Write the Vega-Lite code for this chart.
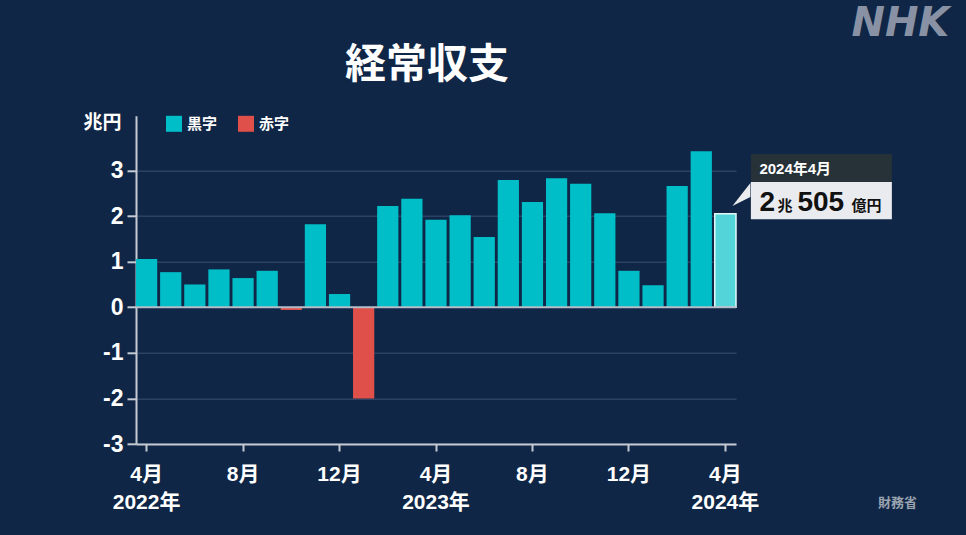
{
  "$schema": "https://vega.github.io/schema/vega-lite/v6.json",
  "autosize": {"type": "none"},
  "width": 600,
  "height": 328.2,
  "padding": {"left": 136, "top": 115.8, "right": 230, "bottom": 91},
  "background": "#0f2646",
  "config": {
    "font": "Liberation Sans, 'Noto Sans CJK JP', sans-serif",
    "view": {"stroke": null}
  },
  "title": {
    "text": "経常収支",
    "color": "white",
    "fontSize": 41,
    "fontWeight": "bold",
    "anchor": "start",
    "frame": "group",
    "dx": 209,
    "offset": 0,
    "dy": 83
  },
  "data": {
    "values": [
      {"ym": "2022-04", "v": 1.06, "kind": "黒字"},
      {"ym": "2022-05", "v": 0.77, "kind": "黒字"},
      {"ym": "2022-06", "v": 0.50, "kind": "黒字"},
      {"ym": "2022-07", "v": 0.83, "kind": "黒字"},
      {"ym": "2022-08", "v": 0.64, "kind": "黒字"},
      {"ym": "2022-09", "v": 0.80, "kind": "黒字"},
      {"ym": "2022-10", "v": -0.06, "kind": "赤字"},
      {"ym": "2022-11", "v": 1.82, "kind": "黒字"},
      {"ym": "2022-12", "v": 0.29, "kind": "黒字"},
      {"ym": "2023-01", "v": -2.00, "kind": "赤字"},
      {"ym": "2023-02", "v": 2.22, "kind": "黒字"},
      {"ym": "2023-03", "v": 2.38, "kind": "黒字"},
      {"ym": "2023-04", "v": 1.92, "kind": "黒字"},
      {"ym": "2023-05", "v": 2.02, "kind": "黒字"},
      {"ym": "2023-06", "v": 1.54, "kind": "黒字"},
      {"ym": "2023-07", "v": 2.79, "kind": "黒字"},
      {"ym": "2023-08", "v": 2.31, "kind": "黒字"},
      {"ym": "2023-09", "v": 2.83, "kind": "黒字"},
      {"ym": "2023-10", "v": 2.71, "kind": "黒字"},
      {"ym": "2023-11", "v": 2.06, "kind": "黒字"},
      {"ym": "2023-12", "v": 0.80, "kind": "黒字"},
      {"ym": "2024-01", "v": 0.48, "kind": "黒字"},
      {"ym": "2024-02", "v": 2.66, "kind": "黒字"},
      {"ym": "2024-03", "v": 3.42, "kind": "黒字"},
      {"ym": "2024-04", "v": 2.0505, "kind": "最新"}
    ]
  },
  "layer": [
    {
      "mark": {"type": "bar"},
      "encoding": {
        "x": {
          "field": "ym",
          "type": "ordinal",
          "scale": {"paddingInner": 0.12, "paddingOuter": 0},
          "axis": {
            "values": ["2022-04", "2022-08", "2022-12", "2023-04", "2023-08", "2023-12", "2024-04"],
            "labelExpr": "toNumber(substring(datum.value,5,7)) == 4 ? [toNumber(substring(datum.value,5,7)) + '月', substring(datum.value,0,4) + '年'] : toNumber(substring(datum.value,5,7)) + '月'",
            "title": null,
            "grid": false,
            "labelAngle": 0,
            "labelColor": "white",
            "labelFontSize": 21,
            "labelFontWeight": "bold",
            "labelLineHeight": 28,
            "labelPadding": 12,
            "tickColor": "#c5cad3",
            "tickSize": 7,
            "tickWidth": 2,
            "domainColor": "#c5cad3",
            "domainWidth": 2
          }
        },
        "y": {
          "field": "v",
          "type": "quantitative",
          "scale": {"domain": [-3, 4.2], "nice": false, "zero": false},
          "axis": {
            "values": [-3, -2, -1, 0, 1, 2, 3],
            "labelExpr": "datum.value < 0 ? '-' + abs(datum.value) : '' + datum.value",
            "title": "兆円",
            "titleAngle": 0,
            "titleAlign": "center",
            "titleBaseline": "middle",
            "titleX": -34,
            "titleY": 7,
            "titleColor": "white",
            "titleFontSize": 19,
            "titleFontWeight": "bold",
            "labelColor": "white",
            "labelFontSize": 23,
            "labelFontWeight": "bold",
            "labelPadding": 4,
            "tickColor": "#c5cad3",
            "tickSize": 9,
            "tickWidth": 2,
            "domainColor": "#c5cad3",
            "domainWidth": 2,
            "gridColor": "#2c4265",
            "gridWidth": 1.5
          }
        },
        "color": {
          "field": "kind",
          "type": "nominal",
          "scale": {"domain": ["黒字", "赤字", "最新"], "range": ["#00bec8", "#e0504a", "#52d4d9"]},
          "legend": {
            "values": ["黒字", "赤字"],
            "title": null,
            "orient": "none",
            "legendX": 30,
            "legendY": 0,
            "direction": "horizontal",
            "symbolType": "square",
            "symbolSize": 256,
            "symbolStrokeWidth": 0,
            "labelColor": "white",
            "labelFontSize": 15,
            "labelFontWeight": "bold",
            "labelOffset": 5,
            "columnPadding": 20
          }
        },
        "stroke": {
          "condition": {"test": "datum.kind == '最新'", "value": "#e4f7f8"},
          "value": null
        },
        "strokeWidth": {"value": 1.5}
      }
    },
    {
      "data": {"values": [{}]},
      "mark": {"type": "rule", "color": "#b4bcc8", "strokeWidth": 2},
      "encoding": {"y": {"datum": 0}}
    },
    {
      "data": {"values": [{}]},
      "mark": {"type": "bar", "color": "#263238", "width": 141, "xOffset": 96},
      "encoding": {
        "x": {"datum": "2024-04", "type": "ordinal"},
        "y": {"datum": 3.362},
        "y2": {"datum": 2.748}
      }
    },
    {
      "data": {"values": [{}]},
      "mark": {"type": "bar", "color": "#e9ebef", "width": 141, "xOffset": 96},
      "encoding": {
        "x": {"datum": "2024-04", "type": "ordinal"},
        "y": {"datum": 2.748},
        "y2": {"datum": 1.93}
      }
    },
    {
      "data": {"values": [{}]},
      "mark": {"type": "point", "shape": "M-1,1.33 L1,-1.22 L1,0.33 Z", "size": 324, "filled": true, "color": "#e9ebef", "opacity": 1, "xOffset": 16},
      "encoding": {
        "x": {"datum": "2024-04", "type": "ordinal"},
        "y": {"datum": 2.485}
      }
    },
    {
      "data": {"values": [{}]},
      "mark": {"type": "text", "text": "2024年4月", "color": "white", "fontSize": 15, "fontWeight": "bold", "align": "left", "baseline": "middle", "xOffset": 34},
      "encoding": {
        "x": {"datum": "2024-04", "type": "ordinal"},
        "y": {"datum": 3.04}
      }
    },
    {
      "data": {"values": [{}]},
      "mark": {"type": "text", "text": "2", "color": "#111111", "fontSize": 28, "fontWeight": "bold", "align": "left", "baseline": "alphabetic", "xOffset": 34},
      "encoding": {
        "x": {"datum": "2024-04", "type": "ordinal"},
        "y": {"datum": 2.105}
      }
    },
    {
      "data": {"values": [{}]},
      "mark": {"type": "text", "text": "兆", "color": "#111111", "fontSize": 15, "fontWeight": "bold", "align": "left", "baseline": "alphabetic", "xOffset": 52},
      "encoding": {
        "x": {"datum": "2024-04", "type": "ordinal"},
        "y": {"datum": 2.105}
      }
    },
    {
      "data": {"values": [{}]},
      "mark": {"type": "text", "text": "505", "color": "#111111", "fontSize": 28, "fontWeight": "bold", "align": "left", "baseline": "alphabetic", "xOffset": 72},
      "encoding": {
        "x": {"datum": "2024-04", "type": "ordinal"},
        "y": {"datum": 2.105}
      }
    },
    {
      "data": {"values": [{}]},
      "mark": {"type": "text", "text": "億円", "color": "#111111", "fontSize": 15, "fontWeight": "bold", "align": "left", "baseline": "alphabetic", "xOffset": 126},
      "encoding": {
        "x": {"datum": "2024-04", "type": "ordinal"},
        "y": {"datum": 2.105}
      }
    },
    {
      "data": {"values": [{}]},
      "mark": {"type": "text", "text": "NHK", "color": "#8892a4", "font": "DejaVu Sans", "fontSize": 40, "fontWeight": "bold", "fontStyle": "italic", "align": "center", "baseline": "middle", "xOffset": 175},
      "encoding": {
        "x": {"datum": "2024-04", "type": "ordinal"},
        "y": {"datum": 6.22}
      }
    },
    {
      "data": {"values": [{}]},
      "mark": {"type": "text", "text": "財務省", "color": "#9aa3b0", "fontSize": 13, "fontWeight": "bold", "align": "center", "baseline": "middle", "xOffset": 172},
      "encoding": {
        "x": {"datum": "2024-04", "type": "ordinal"},
        "y": {"datum": -4.295}
      }
    }
  ]
}
